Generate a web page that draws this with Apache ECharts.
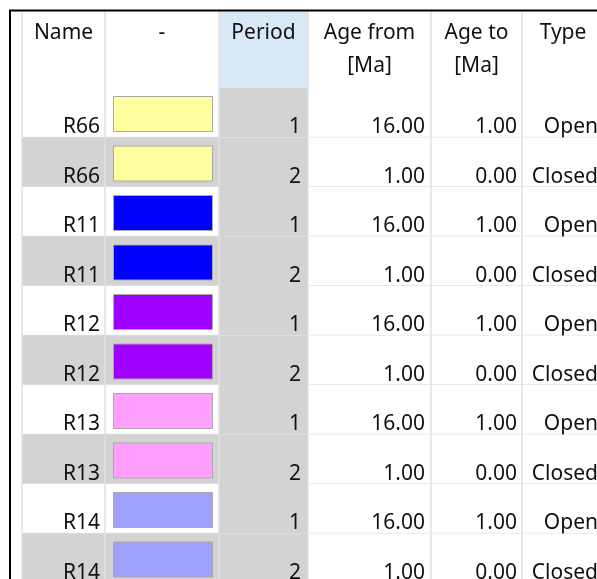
<!DOCTYPE html>
<html><head><meta charset="utf-8">
<script src="https://cdn.jsdelivr.net/npm/echarts@6/dist/echarts.min.js"></script>
<style>html,body{margin:0;padding:0;background:#fff}#c{width:597px;height:579px}</style>
</head><body><div id="c"></div>
<script>
// ---- data ----
const headers = [['Name'], ['-'], ['Period'], ['Age from', '[Ma]'], ['Age to', '[Ma]'], ['Type']];
const names = ['R66', 'R66', 'R11', 'R11', 'R12', 'R12', 'R13', 'R13', 'R14', 'R14'];
const swatchColors = ['#ffffa0', '#ffffa0', '#0000ff', '#0000ff', '#a000ff', '#a000ff', '#ffa0ff', '#ffa0ff', '#a0a0ff', '#a0a0ff'];
const periods = [1, 2, 1, 2, 1, 2, 1, 2, 1, 2];
const ageFrom = [16, 1, 16, 1, 16, 1, 16, 1, 16, 1];
const ageTo = [1, 0, 1, 0, 1, 0, 1, 0, 1, 0];
const types = ['Open', 'Closed', 'Open', 'Closed', 'Open', 'Closed', 'Open', 'Closed', 'Open', 'Closed'];

// ---- layout (axis units) ----
const W = 597, H = 579;
const colEdges = [22, 105, 219, 308, 431, 522, 604];
const headerTop = 11, headerBottom = 88, rowH = 49.5;
const FONT = '21px "Noto Sans"';
const TXT = '#111111';
const GRID = '#e1e1e1';
const GREY = '#d3d3d3';

const chart = echarts.init(document.getElementById('c'), null, {renderer: 'canvas'});

function rectOf(api, x0, y0, x1, y1) {
  const a = api.coord([x0, y0]), b = api.coord([x1, y1]);
  return {x: a[0], y: a[1], width: b[0] - a[0], height: b[1] - a[1]};
}
function line(api, x0, y0, x1, y1, color, w) {
  const a = api.coord([x0, y0]), b = api.coord([x1, y1]);
  return {type: 'line', shape: {x1: a[0], y1: a[1], x2: b[0], y2: b[1]}, style: {stroke: color, lineWidth: w}, silent: true};
}
function text(api, str, x, y, align) {
  const p = api.coord([x, y]);
  return {type: 'text', x: p[0], y: p[1], style: {text: str, font: FONT, fill: TXT, align: align, verticalAlign: 'middle'}, silent: true};
}

function renderRow(params, api) {
  const i = params.dataIndex;
  const top = headerBottom + i * rowH, bot = top + rowH;
  const grey = i % 2 === 1;
  const bg = grey ? GREY : '#ffffff';
  const ch = [];
  ch.push({type: 'rect', shape: rectOf(api, colEdges[0], top, colEdges[2], bot), style: {fill: bg}});
  ch.push({type: 'rect', shape: rectOf(api, colEdges[2], top, colEdges[3], bot), style: {fill: GREY}});
  ch.push({type: 'rect', shape: rectOf(api, colEdges[3], top, colEdges[6], bot), style: {fill: '#ffffff'}});
  // grid lines
  ch.push(line(api, colEdges[0], bot, colEdges[2], bot, GRID, 1.5));
  ch.push(line(api, colEdges[3], bot, colEdges[6], bot, GRID, 1.5));
  [0, 1, 2, 3, 4, 5].forEach(k => {
    ch.push(line(api, colEdges[k], top, colEdges[k], bot, GRID, 1.5));
  });
  // swatch
  ch.push({type: 'rect', shape: rectOf(api, colEdges[1] + 8.5, top + 8.5, colEdges[2] - 6.5, top + 43.5),
    style: {fill: swatchColors[i], stroke: '#a9a9a9', lineWidth: 1}});
  const ty = bot - 10;
  ch.push(text(api, names[i], colEdges[1] - 5, ty, 'right'));
  ch.push(text(api, String(periods[i]), colEdges[3] - 7, ty, 'right'));
  ch.push(text(api, ageFrom[i].toFixed(2), colEdges[4] - 6, ty, 'right'));
  ch.push(text(api, ageTo[i].toFixed(2), colEdges[5] - 5, ty, 'right'));
  ch.push(text(api, types[i], colEdges[6] - 6, ty, 'right'));
  return {type: 'group', children: ch};
}

function renderHeader(params, api) {
  const ch = [];
  ch.push({type: 'rect', shape: rectOf(api, colEdges[0], headerTop, colEdges[6], headerBottom), style: {fill: '#ffffff'}});
  ch.push({type: 'rect', shape: rectOf(api, colEdges[2], headerTop, colEdges[3], headerBottom), style: {fill: '#d9e8f6'}});
  [0, 1, 2, 3, 4, 5].forEach(k => {
    ch.push(line(api, colEdges[k], headerTop, colEdges[k], headerBottom, GRID, 1.5));
  });
  headers.forEach((lines, k) => {
    const cx = (colEdges[k] + colEdges[k + 1]) / 2;
    lines.forEach((s, j) => {
      ch.push(text(api, s, cx, 33 + j * 33, 'center'));
    });
  });
  // outer border
  ch.push(line(api, 9, 10.5, W, 10.5, '#000000', 2));
  ch.push(line(api, 10, 10, 10, H, '#000000', 2));
  return {type: 'group', children: ch};
}

chart.setOption({
  animation: false,
  backgroundColor: '#ffffff',
  grid: {left: 0, right: 0, top: 0, bottom: 0},
  xAxis: {type: 'value', min: 0, max: W, show: false},
  yAxis: {type: 'value', min: 0, max: H, inverse: true, show: false},
  series: [
    {type: 'custom', renderItem: renderRow, clip: false, data: names.map((n, i) => [i, i]), z: 1},
    {type: 'custom', renderItem: renderHeader, clip: false, data: [[0, 0]], z: 2}
  ]
});
</script></body></html>
